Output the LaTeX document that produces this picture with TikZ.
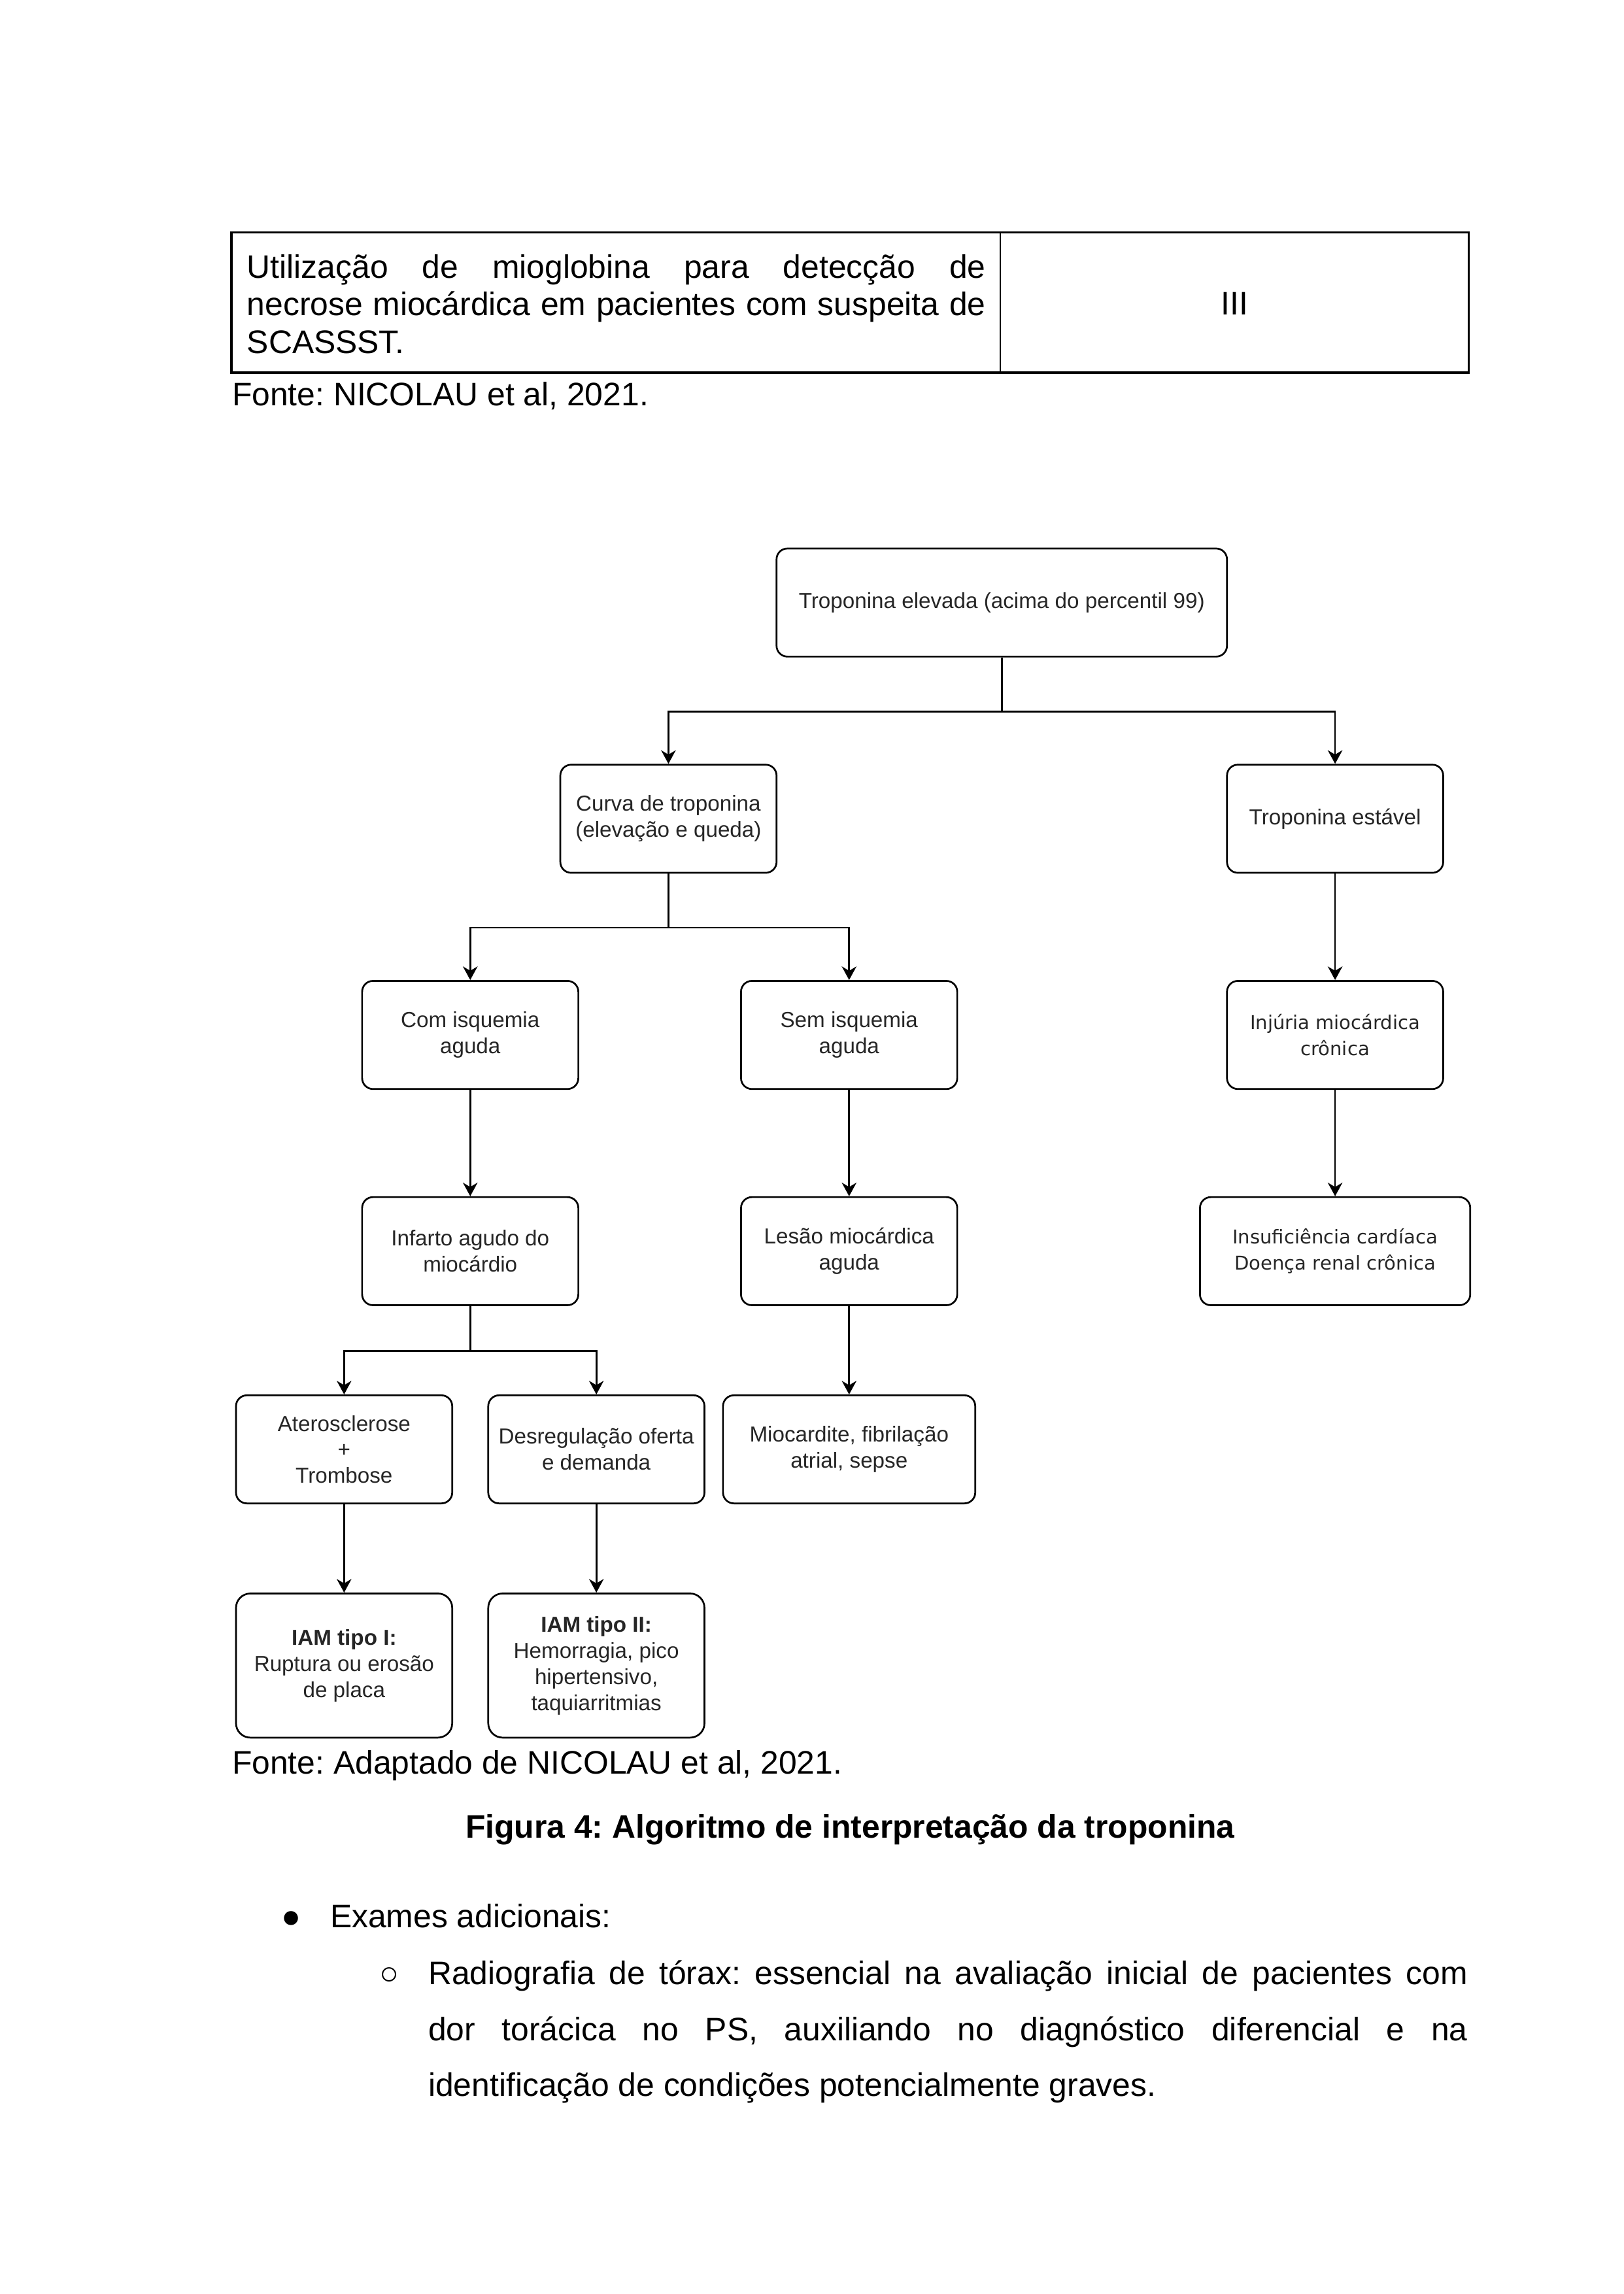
\documentclass[tikz,border=0pt]{standalone}
\usepackage{fontspec}
\setmainfont{Liberation Sans}
\newfontfamily\wide{DejaVu Sans}
\usetikzlibrary{arrows.meta}
\frenchspacing
\tikzstyle{block} = [rectangle,minimum width=2.8cm,minimum height=1.4cm,rounded corners=4pt,
                     align=center,draw=black,line width=0.65pt,text=black!85,
                     font=\fontsize{8}{9.6}\selectfont]
\tikzstyle{wideblock} = [block,font=\wide\fontsize{7}{9.6}\selectfont]
\tikzstyle{tallblock} = [block,minimum height=1.8667cm,rounded corners=5.3pt]
\tikzstyle{flow} = [line width=0.65pt,-{Stealth[length=5pt,width=5.4pt,inset=1.6pt]}]
\tikzstyle{txt} = [inner sep=0pt,font=\fontsize{12}{13.8}\selectfont]

\begin{document}
\begin{tikzpicture}[node distance=2.8cm]
 \fill [white] (0,0) rectangle (21.0312,-29.7095);
 % tabela
 \draw [line width=0.9pt] (3.0,-3.01) rectangle (19.02,-4.826);
 \draw [line width=0.7pt] (12.954,-3.01) -- (12.954,-4.826);
 \node (UM) [txt,anchor=base west,text width=9.566cm,align=justify] at (3.192,-3.603)
       {Utilização de mioglobina para detecção de\linebreak necrose miocárdica em pacientes com suspeita de\linebreak SCASSST.};
 \node (NV) [txt,anchor=base] at (15.99,-4.08) {III};
 \node (F1) [txt,anchor=base west] at (3.0,-5.254) {Fonte: NICOLAU et al, 2021.};
 % algoritmo
 \node (TE) [block,minimum width=5.8333cm] at (12.973,-7.8035) {Troponina elevada (acima do percentil 99)};
 \node (CT) [block,below of=TE,xshift=-4.3167cm] {Curva de troponina\\(elevação e queda)};
 \node (TS) [block,below of=TE,xshift=4.3167cm] {Troponina estável};
 \node (CI) [block,below of=CT,xshift=-2.5667cm] {Com isquemia\\aguda};
 \node (SI) [block,below of=CT,xshift=2.34cm] {Sem isquemia\\aguda};
 \node (IM) [wideblock,below of=TS] {Injúria miocárdica\\crônica};
 \node (IA) [block,below of=CI] {Infarto agudo do\\miocárdio};
 \node (LA) [block,below of=SI] {Lesão miocárdica\\aguda};
 \node (IC) [wideblock,below of=IM,minimum width=3.5cm] {Insuficiência cardíaca\\Doença renal crônica};
 \node (AT) [block,below of=IA,xshift=-1.6333cm,yshift=0.2333cm] {Aterosclerose\\+\\Trombose};
 \node (DO) [block,below of=IA,xshift=1.6333cm,yshift=0.2333cm] {Desregulação oferta\\e demanda};
 \node (MF) [block,below of=LA,yshift=0.2333cm,minimum width=3.2667cm] {Miocardite, fibrilação\\atrial, sepse};
 \node (T1) [tallblock,below of=AT] {\textbf{IAM tipo I:}\\Ruptura ou erosão\\de placa};
 \node (T2) [tallblock,below of=DO] {\textbf{IAM tipo II:}\\Hemorragia, pico\\hipertensivo,\\taquiarritmias};
 \draw [flow] (TE.south) -- ++(0,-0.7) -| (CT.north);
 \draw [flow] (TE.south) -- ++(0,-0.7) -| (TS.north);
 \draw [flow] (CT.south) -- ++(0,-0.7) -| (CI.north);
 \draw [flow] (CT.south) -- ++(0,-0.7) -| (SI.north);
 \draw [flow] (TS) -- (IM);
 \draw [flow] (IM) -- (IC);
 \draw [flow] (CI) -- (IA);
 \draw [flow] (SI) -- (LA);
 \draw [flow] (IA.south) -- ++(0,-0.5833) -| (AT.north);
 \draw [flow] (IA.south) -- ++(0,-0.5833) -| (DO.north);
 \draw [flow] (LA) -- (MF);
 \draw [flow] (AT) -- (T1);
 \draw [flow] (DO) -- (T2);
 % texto
 \node (F2) [txt,anchor=base west] at (3.0,-22.975) {Fonte: Adaptado de NICOLAU et al, 2021.};
 \node (FG) [txt,anchor=base,font=\fontsize{12}{13.8}\selectfont\bfseries] at (11.01,-23.80)
       {Figura 4: Algoritmo de interpretação da troponina};
 \node (B1) [txt,anchor=base west] at (3.635,-24.96) {●};
 \node (EX) [txt,anchor=base west] at (4.27,-24.96) {Exames adicionais:};
 \node (B2) [txt,anchor=base west] at (4.905,-25.70) {○};
 \node (RX) [txt,anchor=base west,text width=13.46cm,align=justify,font=\fontsize{12}{20.64}\selectfont] at (5.54,-25.70)
       {Radiografia de tórax: essencial na avaliação inicial de pacientes com\linebreak dor torácica no PS, auxiliando no diagnóstico diferencial e na\linebreak identificação de condições potencialmente graves.};
\end{tikzpicture}
\end{document}
